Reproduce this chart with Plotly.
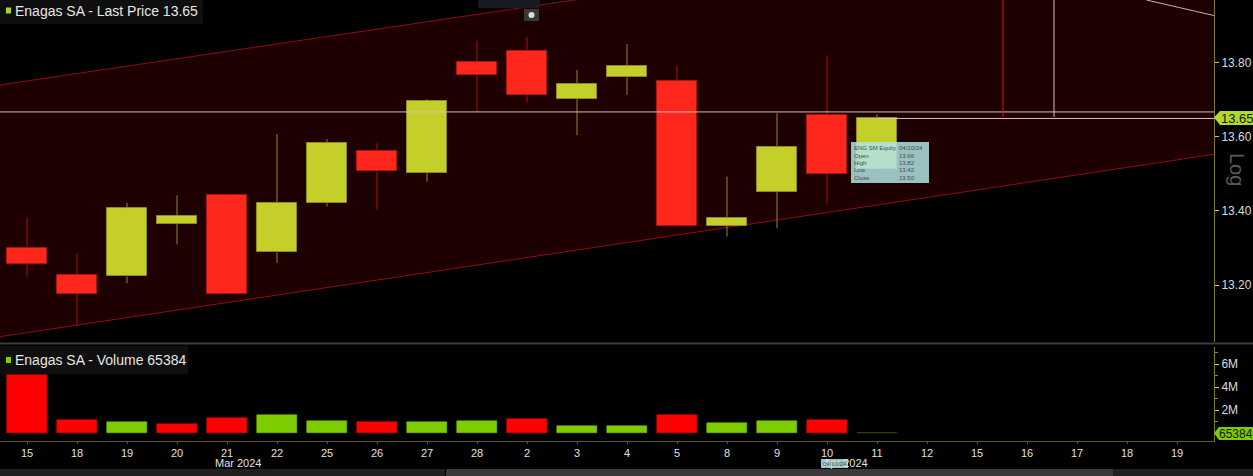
import plotly.graph_objects as go

# ---------------- data ----------------
dates = ["15", "18", "19", "20", "21", "22", "25", "26", "27", "28", "2", "3",
         "4", "5", "8", "9", "10", "11", "12", "15", "16", "17", "18", "19"]
opens = [13.300, 13.228, 13.223, 13.365, 13.442, 13.288, 13.421, 13.563, 13.502,
         13.802, 13.832, 13.702, 13.761, 13.752, 13.360, 13.451, 13.66, 13.514]
highs = [13.381, 13.285, 13.422, 13.442, 13.445, 13.608, 13.594, 13.583, 13.702,
         13.860, 13.870, 13.781, 13.851, 13.792, 13.493, 13.664, 13.82, 13.661]
lows = [13.224, 13.089, 13.205, 13.310, 13.175, 13.260, 13.412, 13.403, 13.479,
        13.668, 13.693, 13.605, 13.714, 13.358, 13.331, 13.353, 13.42, 13.512]
closes = [13.257, 13.176, 13.407, 13.386, 13.177, 13.422, 13.583, 13.507, 13.698,
          13.767, 13.713, 13.742, 13.791, 13.360, 13.380, 13.572, 13.50, 13.65]
volumes = [5.04e6, 1.13e6, 1.01e6, 0.83e6, 1.36e6, 1.57e6, 1.07e6, 0.98e6, 1.01e6,
           1.04e6, 1.22e6, 0.66e6, 0.66e6, 1.57e6, 0.92e6, 1.04e6, 1.16e6, 65384]
month_labels = ["Mar 2024", "Apr 2024"]
month_pos = [4.22, 16.36]
price_ticks = [13.20, 13.40, 13.60, 13.80]
vol_ticks = [2e6, 4e6, 6e6]
vol_ticktext = ["2M", "4M", "6M"]
last_price = 13.65
last_volume = 65384
tooltip_rows = [("ENG SM Equity", "04/10/24"), ("Open", "13.66"), ("High", "13.82"),
                ("Low", "13.42"), ("Close", "13.50")]

# drawn trend channel (x index, price)
channel_x = [-0.54, 23.74]
channel_upper = [13.7405, 14.226]
channel_lower = [13.0603, 13.553]
crosshair_price = 13.6676
red_marker_x = 19.52
cross_marker_x = 20.54
diag_x = [22.39, 23.74]
diag_y = [13.97, 13.928]

# ---------------- layout constants ----------------
W, H = 1253, 476
PW, PH = 1214, 441  # plot area in px


def px(xp):
    return xp / PW


def py(yp):
    return (PH - yp) / PH


x_range = [-0.54, 23.74]
price_range = [13.046, 13.970]
vol_range = [-0.67e6, 7.5e6]

idx = list(range(len(closes)))
up = [c >= o for o, c in zip(opens, closes)]

C_UP = "#c4cf2a"
C_UP_LINE = "#8f8a1e"
C_DN = "#ff271b"
C_DN_LINE = "#a8140f"
V_UP = "#7ccc00"
V_DN = "#ff0000"

FONT = "Liberation Sans, Arial, sans-serif"
shapes = []
annotations = []

fig = go.Figure()

# channel fill and lines (shapes below the traces)
shapes.append(dict(type="path", xref="x", yref="y", layer="below",
                   path=(f"M {channel_x[0]} {channel_upper[0]} L {channel_x[1]} {channel_upper[1]} "
                         f"L {channel_x[1]} {channel_lower[1]} L {channel_x[0]} {channel_lower[0]} Z"),
                   fillcolor="#1f0000", line=dict(width=0)))
for ys in (channel_upper, channel_lower):
    shapes.append(dict(type="line", xref="x", yref="y", layer="below",
                       x0=channel_x[0], x1=channel_x[1], y0=ys[0], y1=ys[1],
                       line=dict(color="#8e0f0f", width=1)))

# wicks (segments outside the body only)
for flag, col in ((True, C_UP_LINE), (False, C_DN_LINE)):
    wx, wy = [], []
    for i in idx:
        if up[i] == flag:
            top = max(opens[i], closes[i])
            bot = min(opens[i], closes[i])
            if highs[i] > top:
                wx += [i, i, None]
                wy += [top, highs[i], None]
            if lows[i] < bot:
                wx += [i, i, None]
                wy += [lows[i], bot, None]
    fig.add_trace(go.Scatter(x=wx, y=wy, mode="lines", line=dict(color=col, width=1),
                             hoverinfo="skip", xaxis="x", yaxis="y", showlegend=False))

# bodies
for flag, fc, lc in ((True, C_UP, C_UP_LINE), (False, C_DN, C_DN_LINE)):
    bx = [i for i in idx if up[i] == flag]
    fig.add_trace(go.Bar(
        x=bx,
        base=[min(opens[i], closes[i]) for i in bx],
        y=[max(abs(closes[i] - opens[i]), 0.001) for i in bx],
        width=0.8, marker=dict(color=fc, line=dict(color=lc, width=1)),
        xaxis="x", yaxis="y", showlegend=False, hoverinfo="skip"))

# volume bars: colour by close vs previous close
vcol = []
for i in idx:
    if i == 0:
        vcol.append(V_DN)
    else:
        vcol.append(V_UP if closes[i] >= closes[i - 1] else V_DN)
vcol[-1] = "#4a6a10"
fig.add_trace(go.Bar(x=idx, y=volumes, width=0.8,
                     marker=dict(color=vcol, line=dict(color=vcol, width=0.5)),
                     xaxis="x2", yaxis="y2", showlegend=False, hoverinfo="skip"))

# crosshair + last-price lines
shapes.append(dict(type="line", xref="x", yref="y", x0=x_range[0], x1=x_range[1],
                   y0=crosshair_price, y1=crosshair_price, line=dict(color="#d8bcbc", width=1)))
shapes.append(dict(type="line", xref="x", yref="y", x0=17.0, x1=x_range[1],
                   y0=last_price, y1=last_price, line=dict(color="#dcc4c4", width=1)))
shapes.append(dict(type="line", xref="x", yref="y", x0=red_marker_x, x1=red_marker_x,
                   y0=last_price + 0.004, y1=price_range[1], line=dict(color="#d01a1c", width=1)))
shapes.append(dict(type="line", xref="x", yref="y", x0=cross_marker_x, x1=cross_marker_x,
                   y0=last_price + 0.004, y1=price_range[1], line=dict(color="#d8c0c0", width=1)))
shapes.append(dict(type="line", xref="x", yref="y", x0=diag_x[0], x1=diag_x[1],
                   y0=diag_y[0], y1=diag_y[1], line=dict(color="#c8b0b0", width=1)))

# panel separator
shapes.append(dict(type="line", xref="paper", yref="paper", x0=0, x1=px(W),
                   y0=py(343.5), y1=py(343.5), line=dict(color="#3c3c3c", width=2)))

# title boxes
shapes.append(dict(type="rect", xref="paper", yref="paper", x0=0, x1=px(203), y0=py(0), y1=py(24),
                   fillcolor="#0f0f0f", line=dict(width=0)))
shapes.append(dict(type="rect", xref="paper", yref="paper", x0=px(6), x1=px(11), y0=py(7.5), y1=py(13.5),
                   fillcolor="#a8d62a", line=dict(width=0)))
annotations.append(dict(xref="paper", yref="paper", x=px(13), y=py(11), xanchor="left", yanchor="middle",
                        text="Enagas SA - Last Price " + f"{last_price:.2f}", showarrow=False,
                        font=dict(family=FONT, size=14, color="#e6e6e6")))
shapes.append(dict(type="rect", xref="paper", yref="paper", x0=0, x1=px(188), y0=py(346), y1=py(374),
                   fillcolor="#0f0f0f", line=dict(width=0)))
shapes.append(dict(type="rect", xref="paper", yref="paper", x0=px(6), x1=px(11), y0=py(357), y1=py(363),
                   fillcolor="#7ccc00", line=dict(width=0)))
annotations.append(dict(xref="paper", yref="paper", x=px(13), y=py(360), xanchor="left", yanchor="middle",
                        text="Enagas SA - Volume " + str(last_volume), showarrow=False,
                        font=dict(family=FONT, size=14, color="#e6e6e6")))

# toolbar stub
shapes.append(dict(type="rect", xref="paper", yref="paper", x0=px(478), x1=px(540), y0=py(0), y1=py(8),
                   fillcolor="#1a1a24", line=dict(width=0)))
shapes.append(dict(type="rect", xref="paper", yref="paper", x0=px(524), x1=px(539), y0=py(9), y1=py(21),
                   fillcolor="#383838", line=dict(width=0)))
shapes.append(dict(type="circle", xref="paper", yref="paper", x0=px(528.5), x1=px(534.5), y0=py(12), y1=py(18),
                   fillcolor="#dddddd", line=dict(color="#dddddd", width=0)))

# tooltip
shapes.append(dict(type="rect", xref="paper", yref="paper", x0=px(851), x1=px(929), y0=py(142), y1=py(183),
                   fillcolor="rgba(178,226,228,0.85)", line=dict(width=0)))
row_y = [148.3, 155.7, 162.9, 170.3, 177.7]
for (lab, val), ry in zip(tooltip_rows, row_y):
    annotations.append(dict(xref="paper", yref="paper", x=px(852), y=py(ry), xanchor="left", yanchor="middle",
                            text=lab, showarrow=False, font=dict(family=FONT, size=6, color="#3c4c4e")))
    annotations.append(dict(xref="paper", yref="paper", x=px(897), y=py(ry), xanchor="left", yanchor="middle",
                            text=val, showarrow=False, font=dict(family=FONT, size=6, color="#3c4c4e")))

# last price tag
shapes.append(dict(type="path", xref="paper", yref="paper",
                   path=f"M {px(1214)} {py(117.5)} L {px(1220)} {py(111)} L {px(1253)} {py(111)} "
                        f"L {px(1253)} {py(125)} L {px(1220)} {py(125)} Z",
                   fillcolor="#b2da2a", line=dict(width=0)))
annotations.append(dict(xref="paper", yref="paper", x=px(1237), y=py(118), xanchor="center", yanchor="middle",
                        text=f"{last_price:.2f}", showarrow=False, font=dict(family=FONT, size=13, color="#151515")))
# volume tag
shapes.append(dict(type="path", xref="paper", yref="paper",
                   path=f"M {px(1214)} {py(433)} L {px(1219)} {py(427)} L {px(1253)} {py(427)} "
                        f"L {px(1253)} {py(440)} L {px(1219)} {py(440)} Z",
                   fillcolor="#7ccc00", line=dict(width=0)))
annotations.append(dict(xref="paper", yref="paper", x=px(1236), y=py(433.5), xanchor="center", yanchor="middle",
                        text=str(last_volume), showarrow=False, font=dict(family=FONT, size=12, color="#151515")))

# "Log" label
annotations.append(dict(xref="paper", yref="paper", x=px(1237), y=py(169), xanchor="center", yanchor="middle",
                        text="Log", textangle=90, showarrow=False, font=dict(family=FONT, size=20, color="#5a5a5a")))

# month labels
for lab, pos in zip(month_labels, month_pos):
    annotations.append(dict(xref="x2", yref="paper", x=pos, y=py(463), xanchor="center", yanchor="middle",
                            text=lab, showarrow=False, font=dict(family=FONT, size=11, color="#e0e0e0")))
shapes.append(dict(type="rect", xref="paper", yref="paper", x0=px(821), x1=px(848), y0=py(459), y1=py(468),
                   fillcolor="rgba(170,220,222,0.9)", line=dict(width=0)))
annotations.append(dict(xref="paper", yref="paper", x=px(834.5), y=py(463.5), xanchor="center", yanchor="middle",
                        text="04/10/24", showarrow=False, font=dict(family=FONT, size=6, color="#3c4c4e")))

# bottom window chrome
shapes.append(dict(type="rect", xref="paper", yref="paper", x0=0, x1=px(445), y0=py(469), y1=py(476),
                   fillcolor="#202020", line=dict(width=0)))
shapes.append(dict(type="rect", xref="paper", yref="paper", x0=px(446), x1=px(1113), y0=py(469), y1=py(476),
                   fillcolor="#3a3a3a", line=dict(width=0)))
shapes.append(dict(type="rect", xref="paper", yref="paper", x0=px(1113), x1=px(W), y0=py(469), y1=py(476),
                   fillcolor="#202020", line=dict(width=0)))

axis_line = "#7c7a26"
fig.update_layout(
    width=W, height=H,
    margin=dict(l=0, r=W - PW, t=0, b=H - PH),
    paper_bgcolor="#000000", plot_bgcolor="#000000",
    barmode="overlay", bargap=0,
    showlegend=False,
    font=dict(family=FONT, color="#dddddd"),
    xaxis=dict(domain=[0, 1], anchor="y", range=x_range, showticklabels=False, showgrid=False,
               zeroline=False, showline=False, ticks="", tickvals=idx),
    xaxis2=dict(domain=[0, 1], anchor="y2", range=x_range, matches="x", showgrid=False, zeroline=False,
                tickvals=list(range(len(dates))), ticktext=dates, ticks="outside", ticklen=2,
                tickcolor="#5a5a20", showline=True, linecolor="#5c5a1e", linewidth=1,
                tickfont=dict(family=FONT, size=11, color="#e0e0e0")),
    yaxis=dict(domain=[py(342), 1], anchor="x", side="right", range=price_range, showgrid=False,
               zeroline=False, tickvals=price_ticks, ticktext=[f"{v:.2f}" for v in price_ticks],
               ticks="outside", ticklen=4, tickcolor="#d8d040", showline=True, linecolor=axis_line,
               linewidth=1, tickfont=dict(family=FONT, size=12, color="#dcdcdc")),
    yaxis2=dict(domain=[0, py(347)], anchor="x2", side="right", range=vol_range, showgrid=False,
                zeroline=False, tickvals=vol_ticks, ticktext=vol_ticktext, ticks="outside", ticklen=4,
                tickcolor="#d8d040", showline=True, linecolor=axis_line, linewidth=1,
                minor=dict(tickvals=[1e6, 3e6, 5e6, 7e6], ticks="outside", ticklen=3, tickcolor="#8a8a30"),
                tickfont=dict(family=FONT, size=12, color="#dcdcdc")),
    shapes=shapes,
    annotations=annotations,
)

fig.write_html("out.html", config={"displayModeBar": False},
               post_script="document.body.style.margin='0';document.body.style.padding='0';"
                           "document.body.style.background='#000';")
